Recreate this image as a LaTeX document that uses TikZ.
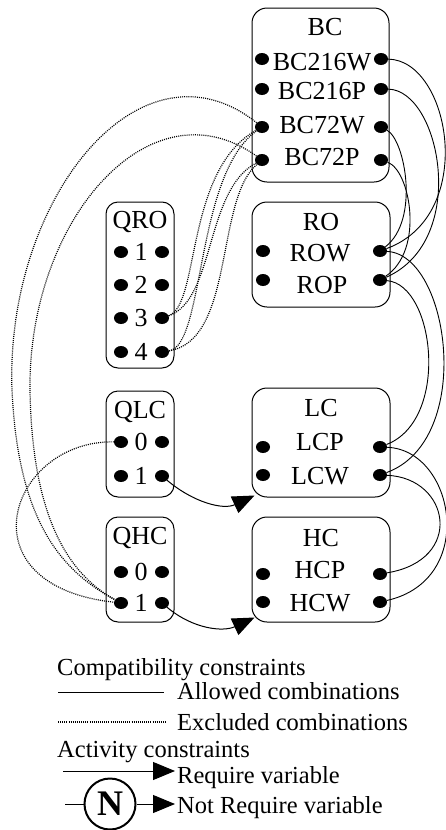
\documentclass[tikz,border=0pt]{standalone}
\usepackage{fontspec}
\setmainfont{Liberation Serif}
\usetikzlibrary{arrows.meta, shapes.geometric}

\begin{document}
\begin{tikzpicture}[x=1pt, y=1pt,
    varbox/.style={draw, rounded corners=15pt, line width=1pt, inner sep=0pt},
    qbox/.style={draw, rounded corners=12pt, line width=1pt, inner sep=0pt, minimum width=68pt},
    port/.style={ellipse, fill=black, minimum width=14pt, minimum height=12pt, inner sep=0pt},
    lbl/.style={font=\fontsize{26}{30}\selectfont, inner sep=0pt},
    allowed/.style={line width=0.9pt},
    excluded/.style={line width=1.2pt, dash pattern=on 1pt off 1.1pt},
    require/.style={line width=1pt, -{Triangle[length=22pt, width=18pt]}},
    legend/.style={font=\fontsize{24.5}{28}\selectfont, anchor=base west, inner sep=0pt}]

    \useasboundingbox (0,0) rectangle (446,-830);

    % Draw the boxes
    \node[varbox, minimum width=137pt, minimum height=174pt] (BC) at (320.5,-95) {};
    \node[qbox, minimum height=166pt] (QRO) at (140,-285) {};
    \node[varbox, minimum width=138pt, minimum height=105pt] (RO) at (321,-254.5) {};
    \node[qbox, minimum height=106pt] (QLC) at (140,-444) {};
    \node[varbox, minimum width=138pt, minimum height=109pt] (LC) at (321,-442.5) {};
    \node[qbox, minimum height=105pt] (QHC) at (140,-569.5) {};
    \node[varbox, minimum width=138pt, minimum height=105pt] (HC) at (321,-569.5) {};

    % BC values
    \node[lbl] (bcT) at (325,-27) {BC};
    \node[lbl] (bc216w) at (322,-62) {BC216W};
    \node[port] (bc216wL) at (262,-59) {};
    \node[port] (bc216wR) at (381,-59) {};
    \node[lbl] (bc216p) at (322,-91) {BC216P};
    \node[port] (bc216pL) at (262,-89) {};
    \node[port] (bc216pR) at (381,-89) {};
    \node[lbl] (bc72w) at (322,-125) {BC72W};
    \node[port] (bc72wL) at (262,-127) {};
    \node[port] (bc72wR) at (381,-127) {};
    \node[lbl] (bc72p) at (322,-157) {BC72P};
    \node[port] (bc72pL) at (262,-160) {};
    \node[port] (bc72pR) at (381,-160) {};

    % QRO values
    \node[lbl] (qroT) at (140,-222) {QRO};
    \node[lbl] (qro1) at (141,-252) {1};
    \node[port] (qro1L) at (121,-252) {};
    \node[port] (qro1R) at (162,-252) {};
    \node[lbl] (qro2) at (141,-285) {2};
    \node[port] (qro2L) at (121,-285) {};
    \node[port] (qro2R) at (162,-285) {};
    \node[lbl] (qro3) at (141,-318) {3};
    \node[port] (qro3L) at (121,-318) {};
    \node[port] (qro3R) at (162,-318) {};
    \node[lbl] (qro4) at (141,-352) {4};
    \node[port] (qro4L) at (121,-352) {};
    \node[port] (qro4R) at (162,-352) {};

    % RO values
    \node[lbl] (roT) at (321,-222) {RO};
    \node[lbl] (row) at (320,-253) {ROW};
    \node[port] (rowL) at (263,-251) {};
    \node[port] (rowR) at (380,-251) {};
    \node[lbl] (rop) at (322,-285) {ROP};
    \node[port] (ropL) at (263,-280) {};
    \node[port] (ropR) at (380,-280) {};

    % QLC values
    \node[lbl] (qlcT) at (140,-412) {QLC};
    \node[lbl] (qlc0) at (141,-442) {0};
    \node[port] (qlc0L) at (121,-442) {};
    \node[port] (qlc0R) at (162,-442) {};
    \node[lbl] (qlc1) at (141,-476) {1};
    \node[port] (qlc1L) at (121,-476) {};
    \node[port] (qlc1R) at (162,-476) {};

    % LC values
    \node[lbl] (lcT) at (321,-408) {LC};
    \node[lbl] (lcp) at (320,-442) {LCP};
    \node[port] (lcpL) at (263,-447) {};
    \node[port] (lcpR) at (380,-447) {};
    \node[lbl] (lcw) at (320,-476) {LCW};
    \node[port] (lcwL) at (263,-475) {};
    \node[port] (lcwR) at (380,-475) {};

    % QHC values
    \node[lbl] (qhcT) at (140,-538) {QHC};
    \node[lbl] (qhc0) at (141,-572) {0};
    \node[port] (qhc0L) at (121,-572) {};
    \node[port] (qhc0R) at (162,-572) {};
    \node[lbl] (qhc1) at (141,-603) {1};
    \node[port] (qhc1L) at (121,-603) {};
    \node[port] (qhc1R) at (162,-603) {};

    % HC values
    \node[lbl] (hcT) at (321,-538) {HC};
    \node[lbl] (hcp) at (320,-570) {HCP};
    \node[port] (hcpL) at (263,-574) {};
    \node[port] (hcpR) at (380,-574) {};
    \node[lbl] (hcw) at (320,-603) {HCW};
    \node[port] (hcwL) at (263,-602) {};
    \node[port] (hcwR) at (380,-602) {};

    % Allowed combinations on the right
    \draw[allowed] (bc216wR) .. controls (450,-60) and (478,-215) .. (rowR);
    \draw[allowed] (bc216pR) .. controls (440,-90) and (470,-240) .. (ropR);
    \draw[allowed] (bc72wR) .. controls (405,-140) and (420,-220) .. (rowR);
    \draw[allowed] (bc72pR) .. controls (410,-170) and (425,-250) .. (ropR);
    \draw[allowed] (rowR) .. controls (450,-255) and (475,-440) .. (lcwR);
    \draw[allowed] (ropR) .. controls (435,-285) and (450,-420) .. (lcpR);
    \draw[allowed] (lcpR) .. controls (455,-450) and (478,-580) .. (hcwR);
    \draw[allowed] (lcwR) .. controls (450,-478) and (465,-560) .. (hcpR);

    % Excluded combinations on the left
    \draw[excluded] (qro3R) .. controls (200,-305) and (185,-170) .. (bc72wL);
    \draw[excluded] (qro3R) .. controls (215,-300) and (205,-190) .. (bc72pL);
    \draw[excluded] (qro4R) .. controls (205,-345) and (195,-175) .. (bc72wL);
    \draw[excluded] (qro4R) .. controls (235,-340) and (215,-200) .. (bc72pL);
    \draw[excluded] (bc72wL) .. controls (140,-30) and (5,-200) .. (12,-390)
        .. controls (18,-520) and (60,-570) .. (qhc1L);
    \draw[excluded] (bc72pL) .. controls (150,-80) and (28,-220) .. (30,-390)
        .. controls (32,-520) and (70,-575) .. (qhc1L);
    \draw[excluded] (qlc0L) .. controls (10,-440) and (-40,-585) .. (qhc1L);

    % Activity constraints
    \coordinate (lcIn) at ([shift={(3,2)}]LC.south west);
    \coordinate (hcIn) at ([shift={(3,5)}]HC.south west);
    \draw[require] (qlc1R) to[out=-40, in=205] (lcIn);
    \draw[require] (qhc1R) to[out=-40, in=205] (hcIn);

    % Legend
    \node[legend] (compat) at (57,-675) {Compatibility constraints};
    \coordinate (allowA) at (58,-692);
    \coordinate (allowB) at (164,-692);
    \draw[allowed] (allowA) -- (allowB);
    \node[legend] (allowTxt) at (177,-699) {Allowed combinations};
    \coordinate (exclA) at (58,-722);
    \coordinate (exclB) at (166,-722);
    \draw[excluded] (exclA) -- (exclB);
    \node[legend] (exclTxt) at (177,-730) {Excluded combinations};
    \node[legend] (activ) at (57,-757) {Activity constraints};
    \coordinate (reqA) at (63,-771);
    \coordinate (reqB) at (175,-771);
    \draw[require] (reqA) -- (reqB);
    \node[legend] (reqTxt) at (177,-783) {Require variable};
    \node[draw, circle, line width=2pt, minimum size=51pt, inner sep=0pt,
          font=\fontsize{36}{36}\selectfont\bfseries] (notN) at (110,-804) {N};
    \coordinate (notA) at (65,-804);
    \coordinate (notB) at (175,-804);
    \draw[line width=1pt] (notA) -- (notN);
    \draw[require] (notN) -- (notB);
    \node[legend] (notTxt) at (177,-813) {Not Require variable};

\end{tikzpicture}
\end{document}
